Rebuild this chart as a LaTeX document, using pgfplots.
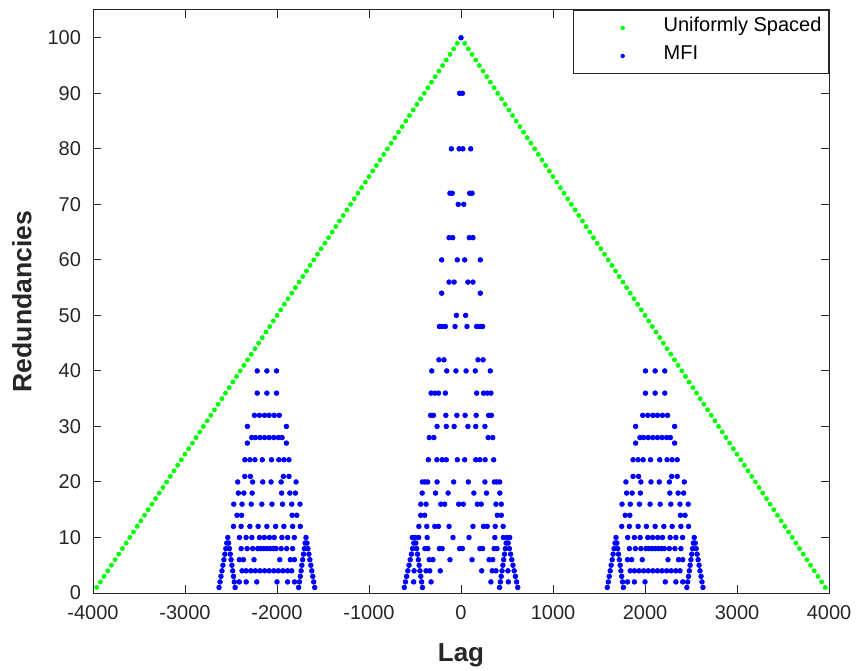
\documentclass[border=0pt]{standalone}
\usepackage{pgfplots}
\pgfplotsset{compat=1.18}
\usepackage{fontspec}
\setmainfont{Liberation Sans}
\definecolor{axgray}{rgb}{0.15,0.15,0.15}
\definecolor{mgreen}{rgb}{0,1,0}
\definecolor{mblue}{rgb}{0,0,1}
\begin{document}
\begin{tikzpicture}
\begin{axis}[
  scale only axis, width=368pt, height=291.5pt,
  xmin=-4000, xmax=4000, ymin=0, ymax=105,
  xtick={-4000,-3000,...,4000}, ytick={0,10,...,100},
  axis line style={draw=axgray, line width=0.5pt},
  tick style={draw=axgray, line width=0.5pt}, major tick length=4pt,
  ticklabel style={font=\fontsize{10}{12}\selectfont, text=axgray},
  yticklabel style={xshift=-2.5pt},
  xticklabel style={yshift=-2.5pt},
  /pgf/number format/assume math mode=true,
  /pgf/number format/1000 sep={},
  xlabel={Lag}, ylabel={Redundancies},
  xlabel style={at={(axis description cs:0.5,-0.1063)}, anchor=center, font=\bfseries\fontsize{13}{15}\selectfont, text=axgray},
  ylabel style={at={(axis description cs:-0.0965,0.5)}, anchor=center, font=\bfseries\fontsize{13.3}{15}\selectfont, text=axgray},
  legend style={at={(1,1)}, anchor=north east, draw=axgray, line width=0.5pt, fill=white,
    font=\fontsize{10}{12}\selectfont, text=black, inner xsep=3.5pt, inner ysep=2.75pt, row sep=2pt,
    nodes={inner sep=0pt, text height=8pt, text depth=4pt}, cells={anchor=west}},
  legend image code/.code={\path[draw=none] (0pt,0pt) -- (41.5pt,0pt); \fill[draw=none] (21pt,0pt) circle (1.1pt);},
]
\coordinate (sw) at (rel axis cs:0,0);
\coordinate (ne) at (rel axis cs:1,1);
\addplot[only marks, color=mgreen, mark=*, mark size=1pt, mark options={draw=none, fill=mgreen}] coordinates {
(-3960,1)(-3920,2)(-3880,3)(-3840,4)(-3800,5)(-3760,6)(-3720,7)(-3680,8)(-3640,9)(-3600,10)
(-3560,11)(-3520,12)(-3480,13)(-3440,14)(-3400,15)(-3360,16)(-3320,17)(-3280,18)(-3240,19)(-3200,20)
(-3160,21)(-3120,22)(-3080,23)(-3040,24)(-3000,25)(-2960,26)(-2920,27)(-2880,28)(-2840,29)(-2800,30)
(-2760,31)(-2720,32)(-2680,33)(-2640,34)(-2600,35)(-2560,36)(-2520,37)(-2480,38)(-2440,39)(-2400,40)
(-2360,41)(-2320,42)(-2280,43)(-2240,44)(-2200,45)(-2160,46)(-2120,47)(-2080,48)(-2040,49)(-2000,50)
(-1960,51)(-1920,52)(-1880,53)(-1840,54)(-1800,55)(-1760,56)(-1720,57)(-1680,58)(-1640,59)(-1600,60)
(-1560,61)(-1520,62)(-1480,63)(-1440,64)(-1400,65)(-1360,66)(-1320,67)(-1280,68)(-1240,69)(-1200,70)
(-1160,71)(-1120,72)(-1080,73)(-1040,74)(-1000,75)(-960,76)(-920,77)(-880,78)(-840,79)(-800,80)
(-760,81)(-720,82)(-680,83)(-640,84)(-600,85)(-560,86)(-520,87)(-480,88)(-440,89)(-400,90)
(-360,91)(-320,92)(-280,93)(-240,94)(-200,95)(-160,96)(-120,97)(-80,98)(-40,99)(0,100)
(40,99)(80,98)(120,97)(160,96)(200,95)(240,94)(280,93)(320,92)(360,91)(400,90)
(440,89)(480,88)(520,87)(560,86)(600,85)(640,84)(680,83)(720,82)(760,81)(800,80)
(840,79)(880,78)(920,77)(960,76)(1000,75)(1040,74)(1080,73)(1120,72)(1160,71)(1200,70)
(1240,69)(1280,68)(1320,67)(1360,66)(1400,65)(1440,64)(1480,63)(1520,62)(1560,61)(1600,60)
(1640,59)(1680,58)(1720,57)(1760,56)(1800,55)(1840,54)(1880,53)(1920,52)(1960,51)(2000,50)
(2040,49)(2080,48)(2120,47)(2160,46)(2200,45)(2240,44)(2280,43)(2320,42)(2360,41)(2400,40)
(2440,39)(2480,38)(2520,37)(2560,36)(2600,35)(2640,34)(2680,33)(2720,32)(2760,31)(2800,30)
(2840,29)(2880,28)(2920,27)(2960,26)(3000,25)(3040,24)(3080,23)(3120,22)(3160,21)(3200,20)
(3240,19)(3280,18)(3320,17)(3360,16)(3400,15)(3440,14)(3480,13)(3520,12)(3560,11)(3600,10)
(3640,9)(3680,8)(3720,7)(3760,6)(3800,5)(3840,4)(3880,3)(3920,2)(3960,1)
};
\addlegendentry{Uniformly Spaced}
\addplot[only marks, color=mblue, mark=*, mark size=1.15pt, mark options={draw=none, fill=mblue}] coordinates {
(0,100)
(-15,90)(15,90)
(-105,80)(-20,80)(20,80)(105,80)
(-120,72)(-95,72)(95,72)(120,72)
(-30,70)(30,70)
(-130,64)(-90,64)(90,64)(130,64)
(-210,60)(-40,60)(40,60)(210,60)
(-130,56)(-75,56)(75,56)(130,56)
(-210,54)(210,54)
(-50,50)(50,50)
(-235,48)(-205,48)(-170,48)(-65,48)(65,48)(170,48)(205,48)(235,48)
(-240,42)(-185,42)(185,42)(240,42)
(-318,40)(-155,40)(-55,40)(55,40)(155,40)(318,40)
(-325,36)(-285,36)(-245,36)(-170,36)(170,36)(245,36)(285,36)(325,36)
(-330,32)(-300,32)(-165,32)(-45,32)(45,32)(165,32)(300,32)(330,32)
(-260,30)(-160,30)(-75,30)(75,30)(160,30)(260,30)
(-345,28)(-295,28)(295,28)(345,28)
(-355,24)(-262,24)(-205,24)(-160,24)(-40,24)(40,24)(160,24)(205,24)(262,24)(355,24)
(-420,20)(-390,20)(-362,20)(-260,20)(-80,20)(80,20)(260,20)(362,20)(390,20)(420,20)
(-422,18)(-277,18)(-140,18)(140,18)(277,18)(422,18)
(-438,16)(-380,16)(-220,16)(-178,16)(-25,16)(25,16)(178,16)(220,16)(380,16)(438,16)
(-438,14)(-395,14)(395,14)(438,14)
(-458,12)(-372,12)(-285,12)(-245,12)(-130,12)(130,12)(245,12)(285,12)(372,12)(458,12)
(-530,10)(-500,10)(-460,10)(-368,10)(-87,10)(87,10)(368,10)(460,10)(500,10)(530,10)
(-392,8)(-360,8)(-235,8)(-205,8)(-15,8)(15,8)(205,8)(235,8)(360,8)(392,8)
(-345,6)(-305,6)(-120,6)(120,6)(305,6)(345,6)
(-510,4)(-380,4)(-340,4)(-225,4)(225,4)(340,4)(380,4)(510,4)
(-515,2)(-325,2)(325,2)(515,2)
(-513,9)(-526,8)(-539,7)(-552,6)(-565,5)(-578,4)(-591,3)(-604,2)(-617,1)
(-491,9)(-482,8)(-473,7)(-464,6)(-455,5)(-446,4)(-437,3)(-428,2)(-419,1)
(513,9)(526,8)(539,7)(552,6)(565,5)(578,4)(591,3)(604,2)(617,1)
(491,9)(482,8)(473,7)(464,6)(455,5)(446,4)(437,3)(428,2)(419,1)
(-2215,40)(-2110,40)(-2005,40)
(-2215,36)(-2110,36)(-2005,36)
(-2245,32)(-2190,32)(-2135,32)(-2085,32)(-2030,32)(-1975,32)
(-2322,30)(-1898,30)
(-2275,28)(-2235,28)(-2185,28)(-2135,28)(-2085,28)(-2035,28)(-1985,28)(-1945,28)
(-2322,27)(-1898,27)
(-2350,24)(-2295,24)(-2240,24)(-2160,24)(-2060,24)(-1980,24)(-1925,24)(-1870,24)
(-2350,21)(-2290,21)(-1930,21)(-1870,21)
(-2427,20)(-2265,20)(-2155,20)(-2065,20)(-1955,20)(-1793,20)
(-2420,18)(-2360,18)(-2270,18)(-1950,18)(-1860,18)(-1800,18)
(-2470,16)(-2380,16)(-2280,16)(-2165,16)(-2055,16)(-1940,16)(-1840,16)(-1750,16)
(-2435,14)(-2385,14)(-1835,14)(-1785,14)
(-2473,12)(-2390,12)(-2295,12)(-2205,12)(-2110,12)(-2015,12)(-1925,12)(-1830,12)(-1747,12)
(-2535,10)(-2408,10)(-2336,10)(-2273,10)(-2190,10)(-2138,10)(-2082,10)(-2030,10)(-1947,10)(-1884,10)(-1812,10)(-1685,10)
(-2390,8)(-2325,8)(-2265,8)(-2210,8)(-2180,8)(-2145,8)(-2110,8)(-2075,8)(-2040,8)(-2010,8)(-1955,8)(-1895,8)(-1830,8)
(-2410,6)(-2365,6)(-2250,6)(-1970,6)(-1855,6)(-1810,6)
(-2380,4)(-2335,4)(-2285,4)(-2235,4)(-2185,4)(-2135,4)(-2085,4)(-2035,4)(-1985,4)(-1935,4)(-1885,4)(-1840,4)
(-2410,2)(-2335,2)(-2220,2)(-2000,2)(-1885,2)(-1810,2)
(-2546,9)(-2556,8)(-2567,7)(-2577,6)(-2588,5)(-2598,4)(-2609,3)(-2619,2)(-2630,1)
(-2526,9)(-2517,8)(-2508,7)(-2499,6)(-2490,5)(-2482,4)(-2473,3)(-2464,2)(-2455,1)
(-1694,9)(-1703,8)(-1712,7)(-1721,6)(-1730,5)(-1738,4)(-1747,3)(-1756,2)(-1765,1)
(-1674,9)(-1664,8)(-1653,7)(-1643,6)(-1632,5)(-1622,4)(-1611,3)(-1601,2)(-1590,1)
(2215,40)(2110,40)(2005,40)
(2215,36)(2110,36)(2005,36)
(2245,32)(2190,32)(2135,32)(2085,32)(2030,32)(1975,32)
(2322,30)(1898,30)
(2275,28)(2235,28)(2185,28)(2135,28)(2085,28)(2035,28)(1985,28)(1945,28)
(2322,27)(1898,27)
(2350,24)(2295,24)(2240,24)(2160,24)(2060,24)(1980,24)(1925,24)(1870,24)
(2350,21)(2290,21)(1930,21)(1870,21)
(2427,20)(2265,20)(2155,20)(2065,20)(1955,20)(1793,20)
(2420,18)(2360,18)(2270,18)(1950,18)(1860,18)(1800,18)
(2470,16)(2380,16)(2280,16)(2165,16)(2055,16)(1940,16)(1840,16)(1750,16)
(2435,14)(2385,14)(1835,14)(1785,14)
(2473,12)(2390,12)(2295,12)(2205,12)(2110,12)(2015,12)(1925,12)(1830,12)(1747,12)
(2535,10)(2408,10)(2336,10)(2273,10)(2190,10)(2138,10)(2082,10)(2030,10)(1947,10)(1884,10)(1812,10)(1685,10)
(2390,8)(2325,8)(2265,8)(2210,8)(2180,8)(2145,8)(2110,8)(2075,8)(2040,8)(2010,8)(1955,8)(1895,8)(1830,8)
(2410,6)(2365,6)(2250,6)(1970,6)(1855,6)(1810,6)
(2380,4)(2335,4)(2285,4)(2235,4)(2185,4)(2135,4)(2085,4)(2035,4)(1985,4)(1935,4)(1885,4)(1840,4)
(2410,2)(2335,2)(2220,2)(2000,2)(1885,2)(1810,2)
(2546,9)(2556,8)(2567,7)(2577,6)(2588,5)(2598,4)(2609,3)(2619,2)(2630,1)
(2526,9)(2517,8)(2508,7)(2499,6)(2490,5)(2482,4)(2473,3)(2464,2)(2455,1)
(1694,9)(1703,8)(1712,7)(1721,6)(1730,5)(1738,4)(1747,3)(1756,2)(1765,1)
(1674,9)(1664,8)(1653,7)(1643,6)(1632,5)(1622,4)(1611,3)(1601,2)(1590,1)
};
\addlegendentry{MFI}
\end{axis}
\pgfresetboundingbox
\path[use as bounding box] ([xshift=-46.5pt,yshift=-38.5pt]sw) rectangle ([xshift=14.5pt,yshift=5pt]ne);
\end{tikzpicture}
\end{document}
